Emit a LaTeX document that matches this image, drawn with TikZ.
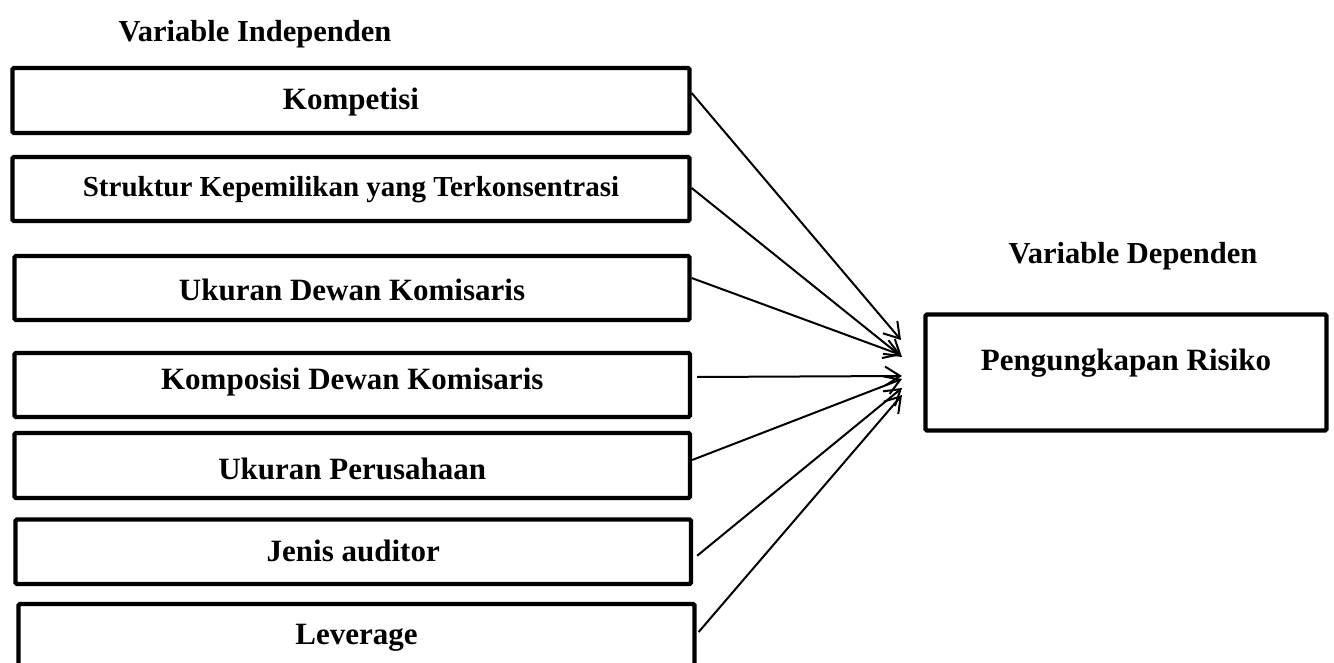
\documentclass[tikz,border=0pt]{standalone}
\usepackage{fontspec}
\setmainfont{Liberation Serif}
\usetikzlibrary{arrows.meta}
\begin{document}
\begin{tikzpicture}[x=1pt,y=-1pt,
  vbox/.style={draw, line width=4.3pt, rounded corners=1.5pt, inner sep=0pt,
    font=\fontsize{31}{36}\selectfont\bfseries, text height=22pt, text depth=7pt,
    align=center, minimum height=65pt},
  conn/.style={line width=2pt, -{Straight Barb[length=15pt,width=19pt,line width=2pt]}},
  ttl/.style={font=\fontsize{30.5}{36}\selectfont\bfseries, anchor=base}]
\useasboundingbox (0,0) rectangle (1334,663);
% titles
\node[ttl] (tind) at (255,42) {Variable Independen};
\node[ttl] (tdep) at (1133,264) {Variable Dependen};
% independent boxes
\node[vbox, minimum width=677pt, text height=26pt] (b1) at (351,100.5) {Kompetisi};
\node[vbox, minimum width=677pt, minimum height=64pt, font=\fontsize{29}{34}\selectfont\bfseries] (b2) at (351,189) {Struktur Kepemilikan yang Terkonsentrasi};
\node[vbox, minimum width=675pt, minimum height=64pt, text height=32pt] (b3) at (352,288) {Ukuran Dewan Komisaris};
\node[vbox, minimum width=675.5pt, minimum height=64pt, text height=15pt] (b4) at (352.25,385) {Komposisi Dewan Komisaris};
\node[vbox, minimum width=675.5pt, text height=34pt] (b5) at (352.25,465.5) {Ukuran Perusahaan};
\node[vbox, minimum width=675.5pt, minimum height=64.5pt, text height=26pt] (b6) at (353.25,551.75) {Jenis auditor};
\node[vbox, minimum width=676pt] (b7) at (356.5,636.5) {Leverage};
% dependent box
\node[vbox, minimum width=401pt, minimum height=116pt, text depth=27pt] (dep) at (1126,372.5) {Pengungkapan Risiko};
% arrow tips
\coordinate (t1) at (901,340);
\coordinate (t2) at (902,357);
\coordinate (t3) at (901,355);
\coordinate (t4) at (902,376);
\coordinate (t5) at (902,379);
\coordinate (t6) at (902,388);
\coordinate (t7) at (902,395);
% connectors
\draw[conn] ([yshift=7.5pt]b1.east) -- (t1);
\draw[conn] ([yshift=1pt]b2.east) -- (t2);
\draw[conn] ([yshift=10pt]b3.east) -- (t3);
\draw[conn] ([xshift=5pt,yshift=8pt]b4.east) -- (t4);
\draw[conn] ([yshift=5.5pt]b5.east) -- (t5);
\draw[conn] ([xshift=4pt,yshift=-4pt]b6.east) -- (t6);
\draw[conn] ([xshift=2pt,yshift=4.5pt]b7.east) -- (t7);
\end{tikzpicture}
\end{document}
